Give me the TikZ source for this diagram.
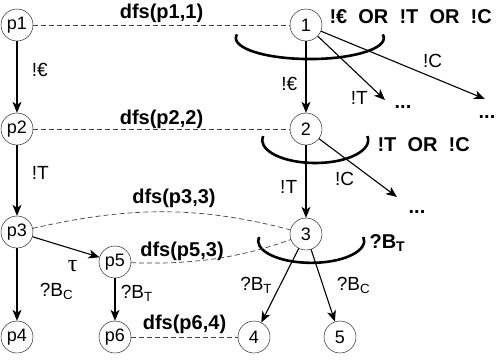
\documentclass[tikz,border=0pt]{standalone}
\usepackage{fontspec}
\setmainfont{Liberation Sans}
\newfontfamily\taufont{Liberation Serif}
\usetikzlibrary{arrows.meta}

\begin{document}
\begin{tikzpicture}[
		x=1pt, y=-1pt,
		>={Stealth[length=11pt,width=9pt,inset=3pt]},
		every node/.style={font=\fontsize{19}{21}\selectfont},
		state/.style={draw,circle,thin,minimum size=32pt,inner sep=0pt,font=\fontsize{18}{20}\selectfont},
		trans/.style={->,line width=1.1pt},
		call/.style={dash pattern=on 5pt off 3pt,line width=0.7pt,draw=black!75},
		dfs/.style={font=\bfseries\fontsize{20}{22}\selectfont},
		cond/.style={font=\bfseries\fontsize{20}{22}\selectfont},
		smile/.style={line width=2.6pt}
	]

		\useasboundingbox (0,0) rectangle (499,362);

		% Program states
		\node[state] (p1) at (17, 25) {p1};
		\node[state] (p2) at (17, 129) {p2};
		\node[state] (p3) at (17, 232) {p3};
		\node[state] (p4) at (17, 337) {p4};
		\node[state] (p5) at (115, 262) {p5};
		\node[state] (p6) at (115, 337) {p6};

		% Model states
		\node[state] (n1) at (306, 25) {1};
		\node[state] (n2) at (306, 129) {2};
		\node[state] (n3) at (306, 234) {3};
		\node[state] (n4) at (254, 337) {4};
		\node[state] (n5) at (340, 337) {5};

		% Open ends
		\coordinate (t1) at (385, 100);
		\coordinate (c1) at (485, 99);
		\coordinate (c2) at (397, 197);
		\node[cond] (d1) at (403, 107) {...};
		\node[cond] (d2) at (487, 117) {...};
		\node[cond] (d3) at (417, 212) {...};

		% Program transitions
		\draw[trans] (p1) -- node[pos=0.4, right=11pt] {!€} (p2);
		\draw[trans] (p2) -- node[pos=0.4, right=11pt] {!T} (p3);
		\draw[trans] (p3) -- node[pos=0.6, right=19pt] {?B\textsubscript{C}} (p4);
		\draw[trans] (p3) -- node[pos=0.6, below=8pt, font=\taufont\fontsize{24}{24}\selectfont] {τ} (p5);
		\draw[trans] (p5) -- node[pos=0.35, right=2pt] {?B\textsubscript{T}} (p6);

		% Model transitions
		\draw[trans] (n1) -- node[pos=0.6, left=5pt] {!€} (n2);
		\draw[trans] (n1) -- node[pos=0.8, anchor=north east] {!T} (t1);
		\draw[trans] (n1) -- node[pos=0.68, above=6pt] {!C} (c1);
		\draw[trans] (n2) -- node[pos=0.58, left=5pt] {!T} (n3);
		\draw[trans] (n2) -- node[pos=0.5, below left=0pt] {!C} (c2);
		\draw[trans] (n3) -- node[pos=0.5, left=4pt] {?B\textsubscript{T}} (n4);
		\draw[trans] (n3) -- node[pos=0.5, right=10pt] {?B\textsubscript{C}} (n5);

		% Refusals
		\draw[smile] (237, 34.4) arc[start angle=190, end angle=-10, x radius=74, y radius=21];
		\draw[smile] (263, 136) arc[start angle=190, end angle=-10, x radius=53, y radius=23];
		\draw[smile] (259, 237) arc[start angle=190, end angle=-10, x radius=53, y radius=22];
		\node[cond, anchor=west] (o1) at (326, 17) {!€\ \ OR\ \ !T\ \ OR\ \ !C};
		\node[cond, anchor=west] (o2) at (374, 145) {!T\ \ OR\ \ !C};
		\node[cond, anchor=west] (o3) at (366, 243) {?B\textsubscript{T}};

		% Calls
		\draw[call] (p1) -- node[dfs, above=-1pt] {dfs(p1,1)} (n1);
		\draw[call] (p2) -- node[dfs, above=-3pt] {dfs(p2,2)} (n2);
		\draw[call] (p3) .. controls (130, 206) and (200, 206) .. node[dfs, pos=0.54, above=1pt] {dfs(p3,3)} (n3);
		\draw[call] (p5) .. controls (190, 265) and (240, 258) .. node[dfs, pos=0.3, above=-2pt] {dfs(p5,3)} (n3);
		\draw[call] (p6) -- node[dfs, above=0pt] {dfs(p6,4)} (n4);
	\end{tikzpicture}
\end{document}
